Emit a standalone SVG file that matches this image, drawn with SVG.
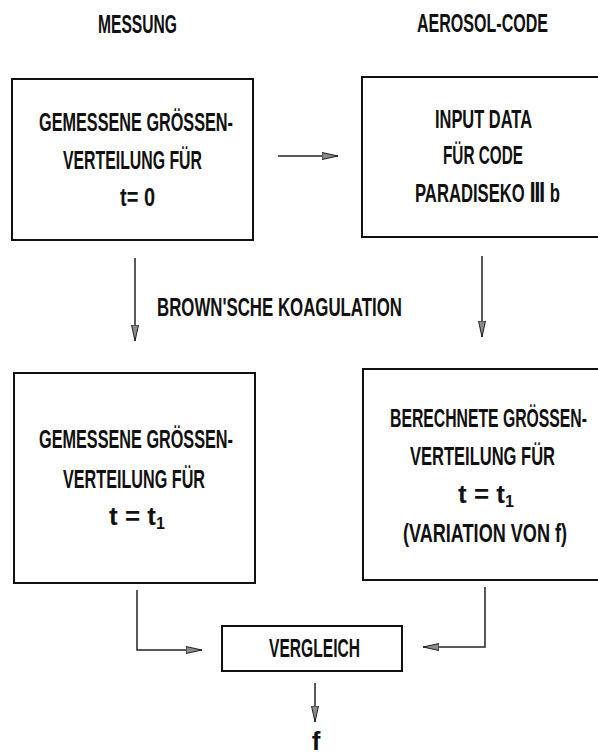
<svg xmlns="http://www.w3.org/2000/svg" width="598" height="753" viewBox="0 0 598 753">
<style>
.t{font-family:"Liberation Sans Narrow","Liberation Sans","DejaVu Sans",sans-serif;font-weight:bold;font-size:26px;fill:#111;text-anchor:middle}
.sub{font-size:16px}
.box{fill:none;stroke:#111;stroke-width:2}
.con{fill:none;stroke:#222;stroke-width:1.5}
</style>
<defs>
<marker id="ah" markerUnits="userSpaceOnUse" markerWidth="18" markerHeight="10" refX="16" refY="4" orient="auto">
<path d="M0,0.5 L16,4 L0,7.5 Z" fill="#8a8a8a" stroke="#222" stroke-width="1"/>
</marker>
</defs>
<rect width="598" height="753" fill="#fff"/>
<g id="titles">
<text class="t" x="137.5" y="33" textLength="79" lengthAdjust="spacingAndGlyphs">MESSUNG</text>
<text class="t" x="482.5" y="32" textLength="131" lengthAdjust="spacingAndGlyphs">AEROSOL-CODE</text>
</g>
<g id="connectors">
<line class="con" x1="278" y1="156" x2="338" y2="156" marker-end="url(#ah)"/>
<line class="con" x1="135" y1="258" x2="135" y2="341" marker-end="url(#ah)"/>
<line class="con" x1="482" y1="256" x2="482" y2="337" marker-end="url(#ah)"/>
<polyline class="con" points="137,590 137,650 202,650" marker-end="url(#ah)"/>
<polyline class="con" points="485,587 485,647 423,647" marker-end="url(#ah)"/>
<line class="con" x1="315" y1="683" x2="315" y2="722" marker-end="url(#ah)"/>
<text class="t" x="279.5" y="316" textLength="245" lengthAdjust="spacingAndGlyphs">BROWN'SCHE KOAGULATION</text>
</g>
<g id="n1">
<rect class="box" x="12" y="79" width="241" height="161"/>
<text class="t" x="136" y="131" textLength="194" lengthAdjust="spacingAndGlyphs">GEMESSENE GRÖSSEN-</text>
<text class="t" x="132.5" y="169" textLength="139" lengthAdjust="spacingAndGlyphs">VERTEILUNG FÜR</text>
<text class="t" x="137.5" y="206" textLength="35" lengthAdjust="spacingAndGlyphs">t= 0</text>
</g>
<g id="n2">
<rect class="box" x="362" y="77" width="245" height="160"/>
<text class="t" x="483.5" y="128" textLength="97" lengthAdjust="spacingAndGlyphs">INPUT DATA</text>
<text class="t" x="483" y="164" textLength="80" lengthAdjust="spacingAndGlyphs">FÜR CODE</text>
<text class="t" x="487.5" y="202" textLength="145" lengthAdjust="spacingAndGlyphs">PARADISEKO Ⅲ b</text>
</g>
<g id="n3">
<rect class="box" x="14" y="373" width="241" height="210"/>
<text class="t" x="136" y="448" textLength="194" lengthAdjust="spacingAndGlyphs">GEMESSENE GRÖSSEN-</text>
<text class="t" x="134" y="488" textLength="142" lengthAdjust="spacingAndGlyphs">VERTEILUNG FÜR</text>
<text class="t" x="137" y="525">t = t<tspan class="sub" dy="4">1</tspan></text>
</g>
<g id="n4">
<rect class="box" x="363" y="369" width="245" height="211"/>
<text class="t" x="488.5" y="427" textLength="197" lengthAdjust="spacingAndGlyphs">BERECHNETE GRÖSSEN-</text>
<text class="t" x="482.5" y="465" textLength="145" lengthAdjust="spacingAndGlyphs">VERTEILUNG FÜR</text>
<text class="t" x="486" y="503">t = t<tspan class="sub" dy="4">1</tspan></text>
<text class="t" x="485" y="542" textLength="164" lengthAdjust="spacingAndGlyphs">(VARIATION VON f)</text>
</g>
<g id="n5">
<rect class="box" x="222" y="626" width="180" height="45"/>
<text class="t" x="314.5" y="657" textLength="91" lengthAdjust="spacingAndGlyphs">VERGLEICH</text>
</g>
<g id="n6">
<text class="t" x="316" y="750">f</text>
</g>
</svg>
